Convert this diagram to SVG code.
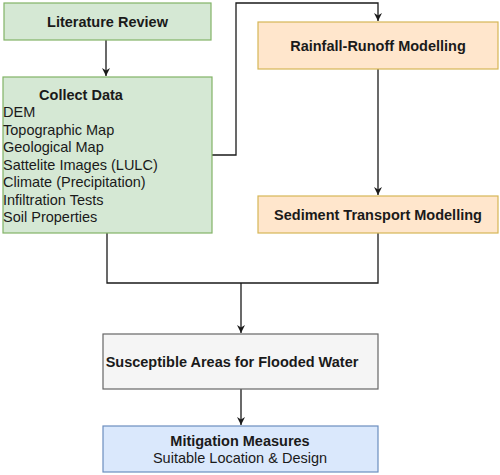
<svg xmlns="http://www.w3.org/2000/svg" width="500" height="475" viewBox="0 0 500 475">
<style>
text{font-family:"Liberation Sans",Arial,sans-serif;font-size:14.5px;fill:#1a1a1a}
.b{font-weight:bold}
.green{fill:#d5e8d4;stroke:#82b366;stroke-width:1.2}
.orange{fill:#ffe6cc;stroke:#d6b656;stroke-width:1.2}
.grey{fill:#f5f5f5;stroke:#666666;stroke-width:1.2}
.blue{fill:#dae8fc;stroke:#6c8ebf;stroke-width:1.2}
.c{fill:none;stroke:#1a1a1a;stroke-width:1.3}
</style>
<defs>
<marker id="ah" markerWidth="10" markerHeight="10" refX="8" refY="5" orient="auto" markerUnits="userSpaceOnUse">
<path d="M0,1 L8,5 L0,9 L2.5,5 Z" fill="#1a1a1a"/>
</marker>
</defs>
<rect width="500" height="475" fill="#ffffff"/>
<g id="connectors">
<path class="c" d="M106,40 V76" marker-end="url(#ah)"/>
<path class="c" d="M212,155 H236 V3 H378 V21" marker-end="url(#ah)"/>
<path class="c" d="M378,69 V195" marker-end="url(#ah)"/>
<path class="c" d="M378,233 V283 H107 V233"/>
<path class="c" d="M241,283 V333" marker-end="url(#ah)"/>
<path class="c" d="M241,389 V425" marker-end="url(#ah)"/>
</g>
<g id="literature-review">
<rect class="green" x="4" y="3" width="207" height="37"/>
<text class="b" x="107.5" y="27" text-anchor="middle">Literature Review</text>
</g>
<g id="collect-data">
<rect class="green" x="3" y="77" width="209" height="156"/>
<text class="b" x="81" y="100" text-anchor="middle">Collect Data</text>
<text x="3" y="117">DEM</text>
<text x="3" y="135">Topographic Map</text>
<text x="3" y="152">Geological Map</text>
<text x="3" y="170">Sattelite Images (LULC)</text>
<text x="3" y="187">Climate (Precipitation)</text>
<text x="3" y="205">Infiltration Tests</text>
<text x="3" y="222">Soil Properties</text>
</g>
<g id="rainfall-runoff">
<rect class="orange" x="258" y="22" width="240" height="47"/>
<text class="b" x="378" y="51" text-anchor="middle">Rainfall-Runoff Modelling</text>
</g>
<g id="sediment-transport">
<rect class="orange" x="258" y="196" width="240" height="37"/>
<text class="b" x="378" y="220" text-anchor="middle">Sediment Transport Modelling</text>
</g>
<g id="susceptible-areas">
<rect class="grey" x="103" y="334" width="275" height="55"/>
<text class="b" x="232" y="367" text-anchor="middle">Susceptible Areas for Flooded Water</text>
</g>
<g id="mitigation-measures">
<rect class="blue" x="103" y="426" width="275" height="46"/>
<text class="b" x="240" y="446" text-anchor="middle">Mitigation Measures</text>
<text x="240" y="463" text-anchor="middle">Suitable Location &amp; Design</text>
</g>
</svg>
